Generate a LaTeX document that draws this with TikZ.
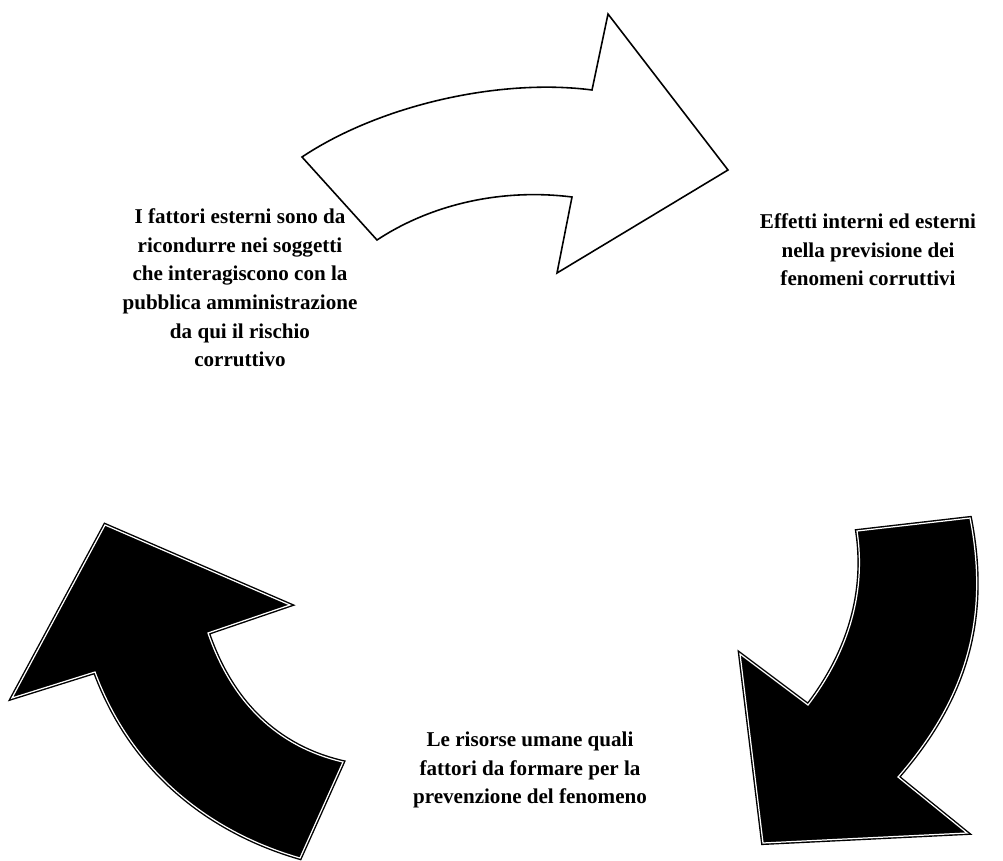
\documentclass[tikz,border=0pt]{standalone}
\usepackage{fontspec}
\setmainfont{Liberation Serif}
\usetikzlibrary{positioning}
\colorlet{penColor}{black}
\colorlet{background}{white}
\tikzset{
  whitearrow/.style={draw=penColor, fill=background, line width=0.9pt, line join=miter},
  blackarrow/.style={draw=penColor, fill=penColor, double=background, double distance=0.7pt, line width=0.8pt, line join=miter},
  caption/.style={align=center, font=\bfseries\fontsize{12}{16.3}\selectfont, text=penColor, inner sep=0pt}
}
\begin{document}
\begin{tikzpicture}[x=0.02cm, y=-0.02cm]
\useasboundingbox (0,0) rectangle (1003,861);
% arrow at the top
\draw[whitearrow] (302,157) -- (377,240) .. controls (430,205) and (500,188) .. (572,197)
  -- (557,273) -- (728,170) -- (608,14) -- (592,90)
  .. controls (500,78) and (380,105) .. (302,157) -- cycle;
% arrow on the right
\draw[blackarrow] (857,531) -- (970,518) .. controls (990,620) and (965,700) .. (898,777)
  -- (967,833) -- (763,843) -- (740,654) -- (808,705)
  .. controls (850,650) and (866,590) .. (857,531) -- cycle;
% arrow on the left
\draw[blackarrow] (105,525) -- (290,605) -- (208,633) .. controls (232,703) and (278,747) .. (343,762)
  -- (300,858) .. controls (220,835) and (135,780) .. (95,672) -- (12,698) -- cycle;

\node[caption] (esterni) at (240,288) {I fattori esterni sono da\\ricondurre nei soggetti\\che interagiscono con la\\pubblica amministrazione\\da qui il rischio\\corruttivo};
\node[caption] (effetti) at (868,250) {Effetti interni ed esterni\\nella previsione dei\\fenomeni corruttivi};
\node[caption] (risorse) at (530,770) {Le risorse umane quali\\fattori da formare per la\\prevenzione del fenomeno};
\end{tikzpicture}
\end{document}
